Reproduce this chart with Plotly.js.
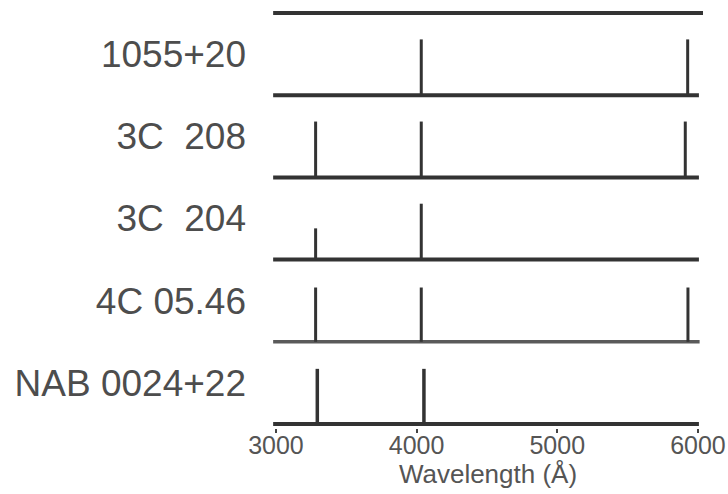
<!DOCTYPE html>
<html>
<head>
<meta charset="utf-8">
<script src="https://cdn.plot.ly/plotly-3.0.1.min.js"></script>
<style>html,body{margin:0;padding:0;background:#fff;}#chart{width:728px;height:494px;}</style>
</head>
<body>
<div id="chart"></div>
<script>
// Objects, listed top to bottom
const objects = ["1055+20", "3C  208", "3C  204", "4C 05.46", "NAB 0024+22"];
// Emission line wavelengths (Å) for each object
const lineWavelengths = [
  [4033, 5927],
  [3282, 4033, 5910],
  [3282, 4033],
  [3282, 4033, 5929],
  [3294, 4052]
];
// Relative line strengths (heights, in panel units)
const lineStrengths = [
  [0.68, 0.68],
  [0.68, 0.68, 0.68],
  [0.38, 0.68],
  [0.66, 0.66, 0.66],
  [0.67, 0.67]
];
// Wavelength coverage of each continuum baseline
const continuumStart = [2980, 2980, 2980, 2980, 2980];
const continuumEnd = [6007, 6007, 6007, 6012, 6007];
const topLine = [2980, 6036];
const xTicks = [3000, 4000, 5000, 6000];

const n = objects.length;
const traces = [];
const lineColor = "#333333";

// top reference line
traces.push({
  x: topLine, y: [n, n], mode: "lines", type: "scatter",
  line: {color: lineColor, width: 4}, hoverinfo: "skip", showlegend: false
});

objects.forEach((name, i) => {
  const base = n - 1 - i;
  // baseline
  traces.push({
    x: [continuumStart[i], continuumEnd[i]], y: [base, base],
    mode: "lines", type: "scatter",
    line: {color: i === 3 ? "#5a5a5a" : lineColor, width: i === 3 ? 3.5 : 4},
    hoverinfo: "skip", showlegend: false
  });
  // emission lines
  const xs = [], ys = [];
  lineWavelengths[i].forEach((w, j) => {
    xs.push(w, w, null);
    ys.push(base, base + lineStrengths[i][j], null);
  });
  traces.push({
    x: xs, y: ys, mode: "lines", type: "scatter",
    line: {color: lineColor, width: i === 4 ? 3.5 : 3},
    hoverinfo: "skip", showlegend: false
  });
});

const textColor = "#4d4d4d";
const layout = {
  width: 728, height: 494,
  margin: {l: 273, r: 25, t: 9, b: 66},
  paper_bgcolor: "#ffffff", plot_bgcolor: "#ffffff",
  showlegend: false,
  font: {family: "Liberation Sans, Arial, sans-serif", color: textColor},
  xaxis: {
    range: [2979, 6036],
    tickvals: xTicks, ticktext: xTicks.map(String),
    ticks: "outside", ticklen: 4, tickwidth: 2, tickcolor: "#444",
    showgrid: false, zeroline: false, showline: false,
    tickfont: {size: 25, color: "#555"},
    ticklabelstandoff: -9,
    title: {text: "Wavelength (Å)", font: {size: 26, color: "#555"}, standoff: 6},
    fixedrange: true
  },
  yaxis: {
    range: [-0.05, n + 0.05],
    tickvals: objects.map((_, i) => n - 1 - i + 0.5),
    ticktext: objects,
    ticks: "", showgrid: false, zeroline: false, showline: false,
    tickfont: {size: 37, color: textColor},
    ticklabelstandoff: 26,
    fixedrange: true
  }
};

Plotly.newPlot("chart", traces, layout, {staticPlot: true, displayModeBar: false});
</script>
</body>
</html>
